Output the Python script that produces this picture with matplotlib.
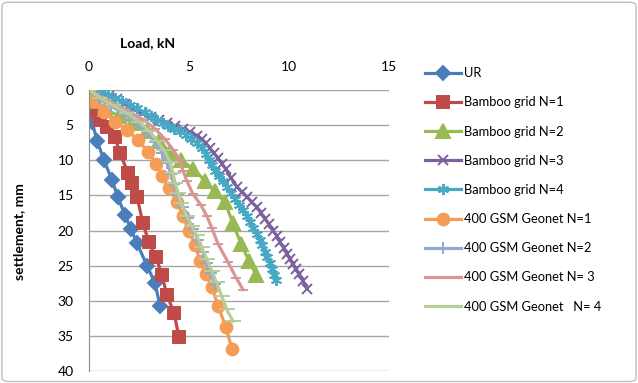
import matplotlib
matplotlib.use("Agg")
import matplotlib.pyplot as plt
from matplotlib.patches import FancyBboxPatch

plt.rcParams["font.family"] = ["Lato", "DejaVu Sans"]

# load (kN) vs settlement (mm)
ur_load = [0, 0.15, 0.4, 0.75, 1.15, 1.45, 1.8, 2.1, 2.4, 2.9, 3.3, 3.55]
ur_sett = [0, 4.5, 7.2, 10.0, 12.8, 15.3, 17.8, 19.8, 21.8, 25.0, 27.5, 30.7]

bg1_load = [0, 0.15, 0.55, 0.9, 1.3, 1.55, 1.95, 2.15, 2.4, 2.7, 3.0, 3.35, 3.65, 3.9, 4.25, 4.5]
bg1_sett = [0, 3.0, 4.3, 5.3, 6.7, 9.0, 11.8, 13.2, 15.2, 19.0, 21.7, 23.8, 26.4, 29.2, 31.7, 35.2]

bg2_load = [0, 0.3, 0.8, 1.5, 2.2, 2.9, 3.5, 4.05, 4.6, 5.2, 5.8, 6.3, 6.8, 7.2, 7.6, 8.0, 8.35]
bg2_sett = [0, 1.5, 2.7, 3.7, 4.7, 5.9, 7.3, 8.8, 10.0, 11.2, 12.9, 14.4, 16.0, 19.0, 21.9, 24.3, 26.3]

bg3_load = [0, 0.3, 0.6, 1.0, 1.4, 1.8, 2.25, 2.65, 3.1, 3.5, 3.9, 4.3, 4.7, 5.05, 5.4,
            5.65, 5.85, 6.05, 6.25, 6.45, 6.65, 6.85, 7.1, 7.4, 7.65, 7.9, 8.15, 8.4, 8.6,
            8.8, 9.0, 9.2, 9.4, 9.55, 9.75, 9.9, 10.05, 10.2, 10.35, 10.5, 10.7, 10.9]
bg3_sett = [0, 0.1, 0.3, 0.8, 1.3, 2.0, 2.7, 3.3, 3.9, 4.3, 4.7, 5.1, 5.6, 6.0, 6.5,
            7.0, 7.6, 8.3, 9.0, 9.7, 10.5, 11.3, 12.5, 13.8, 14.5, 15.2, 16.0, 16.7, 17.5,
            18.3, 19.1, 20.0, 20.8, 21.7, 22.5, 23.3, 24.0, 24.8, 25.5, 26.2, 27.2, 28.3]

bg4_load = [0, 0.3, 0.6, 0.95, 1.3, 1.65, 2.05, 2.4, 2.8, 3.1, 3.4, 3.7, 3.95, 4.25, 4.55,
            4.85, 5.1, 5.4, 5.65, 5.85, 6.0, 6.15, 6.3, 6.5, 6.7, 6.9, 7.1, 7.3, 7.5, 7.7,
            7.9, 8.05, 8.2, 8.4, 8.55, 8.65, 8.8, 8.9, 9.05, 9.15, 9.25, 9.35]
bg4_sett = [0, 0.1, 0.3, 0.7, 1.2, 1.6, 2.1, 2.6, 3.2, 3.7, 4.3, 4.7, 5.1, 5.5, 5.9,
            6.4, 7.0, 7.6, 8.3, 9.1, 10.0, 10.7, 11.5, 12.3, 13.0, 13.8, 14.6, 15.5, 16.3, 17.1,
            17.9, 18.8, 19.6, 20.5, 21.3, 22.1, 23.0, 23.8, 24.6, 25.5, 26.3, 27.1]

gn1_load = [0, 0.3, 0.75, 1.3, 1.9, 2.45, 2.95, 3.35, 3.65, 4.0, 4.4, 4.7, 5.0, 5.3, 5.55,
            5.85, 6.15, 6.45, 6.85, 7.15]
gn1_sett = [0, 1.5, 3.2, 4.5, 5.7, 7.1, 8.8, 10.5, 12.3, 14.0, 15.9, 18.0, 20.0, 22.1, 24.3,
            26.2, 28.1, 30.7, 33.8, 36.9]

gn2_load = [0, 0.5, 1.1, 1.8, 2.4, 2.9, 3.3, 3.65, 3.9, 4.1, 4.25, 4.45, 4.7, 4.95, 5.2,
            5.45, 5.7, 5.9, 6.1, 6.3]
gn2_sett = [0, 1.2, 2.3, 3.5, 4.7, 6.0, 7.4, 8.9, 10.4, 11.9, 13.4, 15.0, 16.6, 18.2, 19.8,
            21.4, 23.0, 24.6, 26.1, 27.6]

gn3_load = [0, 0.6, 1.3, 2.0, 2.7, 3.3, 3.8, 4.2, 4.55, 4.7, 4.9, 5.2, 5.6, 5.9, 6.15,
            6.45, 6.95, 7.35, 7.7]
gn3_sett = [0, 1.0, 2.0, 3.1, 4.2, 5.5, 7.0, 8.5, 10.0, 11.5, 13.0, 14.8, 16.4, 18.0, 19.7,
            21.9, 24.5, 26.7, 28.4]

gn4_load = [0, 0.55, 1.2, 1.9, 2.5, 3.0, 3.4, 3.75, 4.05, 4.2, 4.3, 4.45, 4.6, 4.88, 5.13,
            5.38, 5.63, 5.88, 6.13, 6.38, 6.63, 6.88, 7.2]
gn4_sett = [0, 1.1, 2.2, 3.3, 4.5, 5.8, 7.2, 8.6, 10.2, 11.8, 13.2, 14.6, 16.1, 17.9, 19.3,
            20.7, 22.4, 24.0, 25.7, 27.4, 29.3, 31.2, 32.9]

series = [
    ("UR", ur_load, ur_sett, "#4A7EBB", "D", 7),
    ("Bamboo grid N=1", bg1_load, bg1_sett, "#BE4B48", "s", 8.5),
    ("Bamboo grid N=2", bg2_load, bg2_sett, "#98B954", "^", 9.5),
    ("Bamboo grid N=3", bg3_load, bg3_sett, "#7D60A0", "x", 7),
    ("Bamboo grid N=4", bg4_load, bg4_sett, "#46AAC5", (6, 2, 0), 8),
    ("400 GSM Geonet N=1", gn1_load, gn1_sett, "#F59D56", "o", 8.5),
    ("400 GSM Geonet N=2", gn2_load, gn2_sett, "#93A9CF", "+", 8),
    ("400 GSM Geonet N= 3", gn3_load, gn3_sett, "#D99694", "_", 7),
    ("400 GSM Geonet   N= 4", gn4_load, gn4_sett, "#B9CD96", "_", 11),
]

fig = plt.figure(figsize=(6.38, 3.83), dpi=100)
ax = fig.add_axes([0.1395, 0.0313, 0.4702, 0.7337])

for label, x, y, color, marker, ms in series:
    ax.plot(x, y, color=color, lw=2.3, marker=marker, ms=ms, mew=1.4,
            mec=color, mfc=color, label=label)

ax.set_xlim(0, 15)
ax.set_ylim(40, 0)
ax.set_xticks([0, 5, 10, 15])
ax.set_yticks(range(0, 41, 5))
ax.xaxis.tick_top()
ax.tick_params(axis="x", length=0, pad=12, labelsize=10)
ax.tick_params(axis="y", length=0, pad=11, labelsize=10)
ax.grid(axis="y", color="#A6A6A6", lw=1)
ax.set_axisbelow(True)
for side in ["top", "right", "bottom"]:
    ax.spines[side].set_visible(False)
ax.spines["left"].set_color("#8C8C8C")

fig.text(148 / 638, 1 - 43 / 383, "Load, kN", fontsize=10, fontweight="bold",
         ha="center", va="center")
fig.text(19 / 638, 1 - 232 / 383, "settlement, mm", fontsize=10, fontweight="bold",
         rotation=90, ha="center", va="center")

ax.legend(loc="upper left", bbox_to_anchor=(420 / 638, 1 - 62 / 383),
          bbox_transform=fig.transFigure, frameon=False, fontsize=9.3,
          handlelength=2.8, handletextpad=0.2, labelspacing=1.33, borderaxespad=0)

border = FancyBboxPatch((0.003, 0.004), 0.994, 0.99, boxstyle="round,pad=0,rounding_size=0.01",
                        transform=fig.transFigure, fill=False, ec="#BFBFBF", lw=1)
fig.patches.append(border)

fig.savefig("out.png", dpi=100)
